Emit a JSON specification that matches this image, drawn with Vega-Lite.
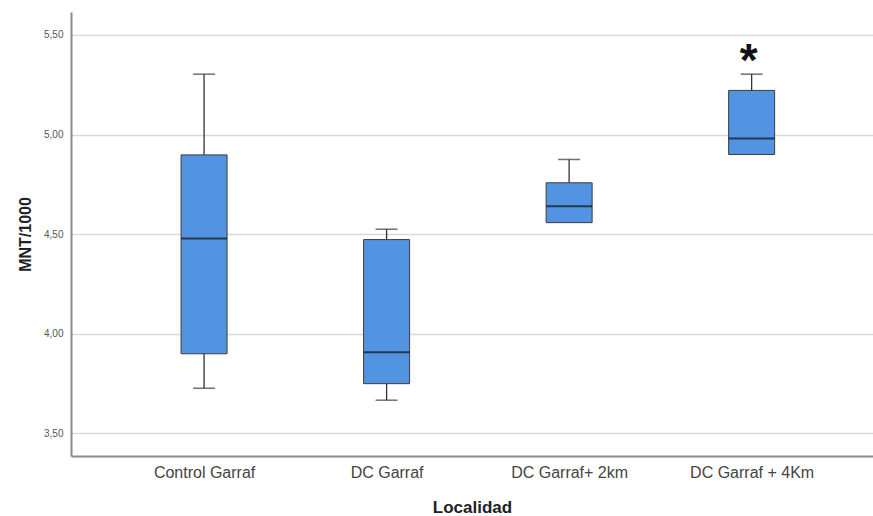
{
  "$schema": "https://vega.github.io/schema/vega-lite/v6.json",
  "autosize": {"type": "none"},
  "width": 802,
  "height": 444,
  "padding": {"left": 71, "top": 12, "right": 0, "bottom": 60},
  "background": "white",
  "config": {
    "view": {"stroke": null},
    "font": "Liberation Sans"
  },
  "datasets": {
    "boxes": [
      {"Localidad": "Control Garraf", "lower": 3.727, "q1": 3.90, "median": 4.478, "q3": 4.898, "upper": 5.303},
      {"Localidad": "DC Garraf", "lower": 3.667, "q1": 3.75, "median": 3.907, "q3": 4.473, "upper": 4.525},
      {"Localidad": "DC Garraf+ 2km", "lower": 4.558, "q1": 4.558, "median": 4.64, "q3": 4.758, "upper": 4.875},
      {"Localidad": "DC Garraf + 4Km", "lower": 4.90, "q1": 4.90, "median": 4.98, "q3": 5.2215, "upper": 5.303}
    ],
    "outliers": [
      {"Localidad": "DC Garraf + 4Km", "value": 5.41}
    ]
  },
  "encoding": {
    "x": {
      "field": "Localidad",
      "type": "nominal",
      "sort": ["Control Garraf", "DC Garraf", "DC Garraf+ 2km", "DC Garraf + 4Km"],
      "scale": {"type": "point", "padding": 0.697, "align": 0.523},
      "axis": {
        "title": "Localidad",
        "labelAngle": 0,
        "labelFontSize": 16,
        "labelColor": "#444444",
        "labelPadding": 8,
        "ticks": false,
        "domainColor": "#8c8c8c",
        "domainWidth": 2,
        "titleFontSize": 17,
        "titleFontWeight": "bold",
        "titleColor": "#222222",
        "titlePadding": 19,
        "grid": false
      }
    }
  },
  "layer": [
    {
      "data": {"name": "boxes"},
      "mark": {"type": "rule", "color": "#333333", "strokeWidth": 1.3},
      "encoding": {
        "y": {
          "field": "lower",
          "type": "quantitative",
          "scale": {"domain": [3.387, 5.615], "nice": false, "zero": false},
          "axis": {
            "title": "MNT/1000",
            "values": [3.5, 4.0, 4.5, 5.0, 5.5],
            "labelExpr": "replace(format(datum.value, '.2f'), '.', ',')",
            "labelFontSize": 10,
            "labelColor": "#555555",
            "labelPadding": 8,
            "ticks": false,
            "domainColor": "#8c8c8c",
            "domainWidth": 2,
            "grid": true,
            "gridColor": "#d9d9d9",
            "gridWidth": 1.5,
            "titleFontSize": 16,
            "titleFontWeight": "bold",
            "titleColor": "#222222",
            "titlePadding": 10
          }
        },
        "y2": {"field": "upper"}
      }
    },
    {
      "data": {"name": "boxes"},
      "transform": [{"filter": "datum.lower < datum.q1"}],
      "mark": {"type": "tick", "color": "#333333", "size": 22, "thickness": 1.5},
      "encoding": {"y": {"field": "lower", "type": "quantitative"}}
    },
    {
      "data": {"name": "boxes"},
      "mark": {"type": "tick", "color": "#333333", "size": 22, "thickness": 1.5},
      "encoding": {"y": {"field": "upper", "type": "quantitative"}}
    },
    {
      "data": {"name": "boxes"},
      "mark": {"type": "bar", "size": 46, "fill": "#5294e2", "stroke": "#3c3c3c", "strokeWidth": 1},
      "encoding": {
        "y": {"field": "q1", "type": "quantitative"},
        "y2": {"field": "q3"}
      }
    },
    {
      "data": {"name": "boxes"},
      "mark": {"type": "tick", "color": "#111111", "size": 46, "thickness": 2},
      "encoding": {"y": {"field": "median", "type": "quantitative"}}
    },
    {
      "data": {"name": "outliers"},
      "mark": {"type": "text", "text": "*", "fontSize": 46, "fontWeight": "bold", "color": "#111111", "baseline": "alphabetic", "dy": 23, "dx": -3},
      "encoding": {"y": {"field": "value", "type": "quantitative"}}
    }
  ]
}
